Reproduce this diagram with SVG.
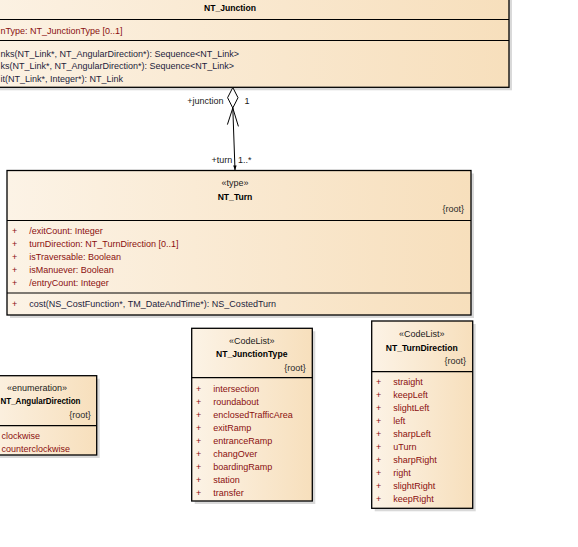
<svg xmlns="http://www.w3.org/2000/svg" width="578" height="547" viewBox="0 0 578 547">
<defs>
<linearGradient id="fillg" x1="0" y1="0" x2="1" y2="0">
<stop offset="0" stop-color="#fcf3e6"/>
<stop offset="1" stop-color="#f7dfbc"/>
</linearGradient>
<style>
.box{fill:url(#fillg);stroke:#000;stroke-width:1.3}
.shadow{fill:#d9d9d9}
.div{stroke:#000;stroke-width:1.2}
text{font-family:"Liberation Sans",Arial,sans-serif;font-size:9px}
.title{font-weight:bold;font-size:8.6px;fill:#000;text-anchor:middle}
.st{fill:#1a1a1a;text-anchor:middle}
.root{fill:#2a2a2a;text-anchor:end}
.attr{fill:#8a0f0f}
.op{fill:#1c1c3c}
.plus{fill:#8a0f0f}
.lbl{fill:#1a1a1a}
.conn{stroke:#000;stroke-width:1;fill:none}
</style>
</defs>
<rect width="578" height="547" fill="#fff"/>

<g id="NT_Junction">
<rect class="shadow" x="-46" y="-7" width="558" height="97.3"/>
<rect class="box" x="-49" y="-10" width="558" height="97.3"/>
<line class="div" x1="-49" y1="19.5" x2="509" y2="19.5"/>
<line class="div" x1="-49" y1="40.5" x2="509" y2="40.5"/>
<text class="title" x="230" y="10.8">NT_Junction</text>
<text class="attr" x="0.5" y="34.2">nType: NT_JunctionType [0..1]</text>
<text class="op" x="0.5" y="56.6">nks(NT_Link*, NT_AngularDirection*): Sequence&lt;NT_Link&gt;</text>
<text class="op" x="0.5" y="69.2">ks(NT_Link*, NT_AngularDirection*): Sequence&lt;NT_Link&gt;</text>
<text class="op" x="0.5" y="82.4">it(NT_Link*, Integer*): NT_Link</text>
</g>

<g id="NT_Turn">
<rect class="shadow" x="10" y="173.5" width="464" height="144.5"/>
<rect class="box" x="7" y="170.5" width="464" height="144.5"/>
<line class="div" x1="7" y1="220.5" x2="471" y2="220.5"/>
<line class="div" x1="7" y1="293" x2="471" y2="293"/>
<text class="st" x="235" y="185.5">«type»</text>
<text class="title" x="235" y="200">NT_Turn</text>
<text class="root" x="464" y="212.2">{root}</text>
<text class="plus" x="12" y="234.2">+</text><text class="attr" x="29.3" y="234.2">/exitCount: Integer</text>
<text class="plus" x="12" y="247.4">+</text><text class="attr" x="29.3" y="247.4">turnDirection: NT_TurnDirection [0..1]</text>
<text class="plus" x="12" y="260.2">+</text><text class="attr" x="29.3" y="260.2">isTraversable: Boolean</text>
<text class="plus" x="12" y="273.2">+</text><text class="attr" x="29.3" y="273.2">isManuever: Boolean</text>
<text class="plus" x="12" y="285.9">+</text><text class="attr" x="29.3" y="285.9">/entryCount: Integer</text>
<text class="plus" x="12" y="306.5">+</text><text class="op" x="29.3" y="306.5">cost(NS_CostFunction*, TM_DateAndTime*): NS_CostedTurn</text>
</g>

<g id="NT_AngularDirection">
<rect class="shadow" x="-20" y="378.7" width="119.7" height="79.3"/>
<rect class="box" x="-23" y="375.7" width="119.7" height="79.3"/>
<line class="div" x1="-23" y1="425.7" x2="96.7" y2="425.7"/>
<text class="st" x="37" y="390.5">«enumeration»</text>
<text class="title" x="0.5" y="404.2" style="text-anchor:start" textLength="80" lengthAdjust="spacingAndGlyphs">NT_AngularDirection</text>
<text class="root" x="90.7" y="417.5">{root}</text>
<text class="attr" x="1.5" y="438.9">clockwise</text>
<text class="attr" x="1.5" y="452.2">counterclockwise</text>
</g>

<g id="NT_JunctionType">
<rect class="shadow" x="194.7" y="331.3" width="120.6" height="172.7"/>
<rect class="box" x="191.7" y="328.3" width="120.6" height="172.7"/>
<line class="div" x1="191.7" y1="377.7" x2="312.3" y2="377.7"/>
<text class="st" x="251.7" y="344.2">«CodeList»</text>
<text class="title" x="251.7" y="357.2">NT_JunctionType</text>
<text class="root" x="305.7" y="370.9">{root}</text>
<text class="plus" x="196" y="392.2">+</text><text class="attr" x="213.3" y="392.2">intersection</text>
<text class="plus" x="196" y="405.2">+</text><text class="attr" x="213.3" y="405.2">roundabout</text>
<text class="plus" x="196" y="418.2">+</text><text class="attr" x="213.3" y="418.2">enclosedTrafficArea</text>
<text class="plus" x="196" y="431.2">+</text><text class="attr" x="213.3" y="431.2">exitRamp</text>
<text class="plus" x="196" y="444.2">+</text><text class="attr" x="213.3" y="444.2">entranceRamp</text>
<text class="plus" x="196" y="457.2">+</text><text class="attr" x="213.3" y="457.2">changOver</text>
<text class="plus" x="196" y="470.2">+</text><text class="attr" x="213.3" y="470.2">boardingRamp</text>
<text class="plus" x="196" y="483.2">+</text><text class="attr" x="213.3" y="483.2">station</text>
<text class="plus" x="196" y="496.2">+</text><text class="attr" x="213.3" y="496.2">transfer</text>
</g>

<g id="NT_TurnDirection">
<rect class="shadow" x="374.7" y="324" width="101" height="187.3"/>
<rect class="box" x="371.7" y="321" width="101" height="187.3"/>
<line class="div" x1="371.7" y1="371.7" x2="472.7" y2="371.7"/>
<text class="st" x="421.7" y="337.2">«CodeList»</text>
<text class="title" x="421.7" y="350.5">NT_TurnDirection</text>
<text class="root" x="466" y="363.9">{root}</text>
<text class="plus" x="376" y="384.9">+</text><text class="attr" x="393.3" y="384.9">straight</text>
<text class="plus" x="376" y="397.9">+</text><text class="attr" x="393.3" y="397.9">keepLeft</text>
<text class="plus" x="376" y="410.9">+</text><text class="attr" x="393.3" y="410.9">slightLeft</text>
<text class="plus" x="376" y="423.9">+</text><text class="attr" x="393.3" y="423.9">left</text>
<text class="plus" x="376" y="436.9">+</text><text class="attr" x="393.3" y="436.9">sharpLeft</text>
<text class="plus" x="376" y="449.9">+</text><text class="attr" x="393.3" y="449.9">uTurn</text>
<text class="plus" x="376" y="462.9">+</text><text class="attr" x="393.3" y="462.9">sharpRight</text>
<text class="plus" x="376" y="475.9">+</text><text class="attr" x="393.3" y="475.9">right</text>
<text class="plus" x="376" y="488.9">+</text><text class="attr" x="393.3" y="488.9">slightRight</text>
<text class="plus" x="376" y="501.9">+</text><text class="attr" x="393.3" y="501.9">keepRight</text>
</g>

<g id="connectors">
<polygon points="232.8,87.5 227.6,97.7 232.8,108 238,97.7" fill="#fff" stroke="#000" stroke-width="1"/>
<polyline class="conn" points="227.4,124.6 232.8,108 238.4,126.4"/>
<line class="conn" x1="232.8" y1="108" x2="235" y2="170"/>
<polygon points="235,170.5 233.2,165.5 236.6,165.4" fill="#000"/>
<text class="lbl" x="223.5" y="104" text-anchor="end">+junction</text>
<text class="lbl" x="244.5" y="104">1</text>
<text class="lbl" x="211.5" y="163.2">+turn</text>
<text class="lbl" x="238" y="163.2">1..*</text>
</g>
</svg>
